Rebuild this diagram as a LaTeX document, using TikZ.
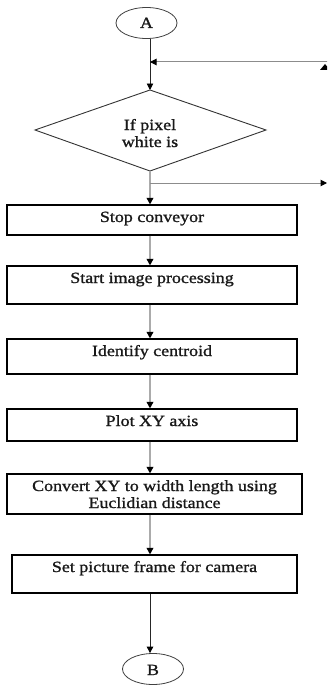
\documentclass[tikz,border=0pt]{standalone}
\usepackage{fontspec}
\setmainfont{Liberation Serif}[FakeStretch=1.15,FakeBold=1.2]
\usetikzlibrary{arrows.meta,shapes.geometric}
\begin{document}
\begin{tikzpicture}[x=1pt,y=-1pt,
  box/.style={draw=black,line width=1.1pt,rectangle,inner sep=0pt},
  oval/.style={draw=black!75,line width=0.8pt,ellipse,inner sep=0pt,minimum width=61pt,minimum height=31pt},
  txt/.style={font=\fontsize{15.6}{17}\selectfont,anchor=base,inner sep=0pt,text=black!90},
  tip/.style={-{Triangle[black,length=6.5pt,width=6.5pt]}},
  gconn/.style={tip,draw=black!33,line width=2pt},
  bconn/.style={tip,draw=black!85,line width=0.9pt}]
\useasboundingbox (0,0) rectangle (327,685);
\clip (0,0) rectangle (327,685);
% terminals
\node[oval] (A) at (146.5,23) {};
\node[txt] at (146.5,28) {A};
\node[oval] (B) at (153,669) {};
\node[txt] at (153,675) {B};
% decision
\coordinate (dT) at (150,90);
\coordinate (dL) at (35,130);
\coordinate (dR) at (266,130);
\coordinate (dB) at (150,171);
\draw[draw=black!80,line width=0.9pt] (dT) -- (dR) -- (dB) -- (dL) -- cycle;
\node[txt] at (150,130) {If pixel};
\node[txt] at (150,147) {white is};
% boxes
\node[box,minimum width=290pt,minimum height=30pt] (s1) at (152,220) {};
\node[txt] at (152,222) {Stop conveyor};
\node[box,minimum width=290pt,minimum height=38pt] (s2) at (152,285) {};
\node[txt] at (152,283) {Start image processing};
\node[box,minimum width=290pt,minimum height=35pt] (s3) at (152,356.5) {};
\node[txt] at (152,356) {Identify centroid};
\node[box,minimum width=290pt,minimum height=32pt] (s4) at (152,425) {};
\node[txt] at (152,426) {Plot XY axis};
\node[box,minimum width=295pt,minimum height=40pt] (s5) at (154.5,494) {};
\node[txt] at (154.5,491) {Convert XY to width length using};
\node[txt] at (154.5,508) {Euclidian distance};
\node[box,minimum width=285pt,minimum height=38pt] (s6) at (154.5,574) {};
\node[txt] at (154.5,572) {Set picture frame for camera};
% side links
\coordinate (jin) at (150,62);
\coordinate (rin) at (330,62);
\coordinate (jout) at (150,183);
\coordinate (rout) at (327,183);
% connectors
\draw[bconn] (A.south -| dT) -- (dT);
\draw[tip,draw=black!45,line width=1pt] (rin) -- (jin);
\draw[gconn] (dB) -- (dB |- s1.north);
\draw[tip,draw=black!45,line width=1pt] (jout) -- (rout);
\draw[gconn] (s1.south -| dT) -- (s2.north -| dT);
\draw[gconn] (s2.south -| dT) -- (s3.north -| dT);
\draw[gconn] (s3.south -| dT) -- (s4.north -| dT);
\draw[gconn] (s4.south -| dT) -- (s5.north -| dT);
\draw[gconn] (s5.south -| dT) -- (s6.north -| dT);
\draw[bconn] (s6.south -| dT) -- (B.north -| dT);
% cut-off arrowhead at right edge
\fill[black] (320,70) -- (325,64) -- (330,70) -- cycle;
\end{tikzpicture}
\end{document}
